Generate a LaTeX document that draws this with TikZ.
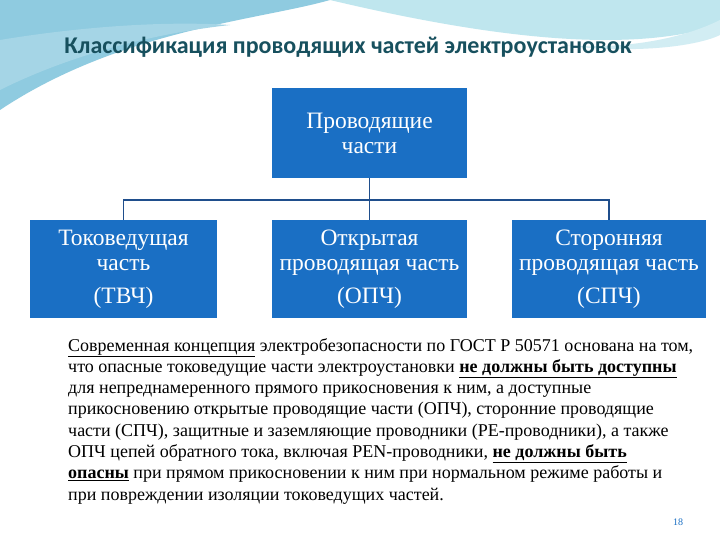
\documentclass[tikz,border=0pt]{standalone}
\usepackage{fontspec}
\setmainfont{Liberation Serif}
\newfontfamily\titlefont{Carlito}
\newcommand\ul[1]{\underline{#1}}
\begin{document}
\begin{tikzpicture}[x=1pt,y=-1pt,
  box/.style={draw=none,fill=boxblue,text=white,inner sep=0pt,align=center,font=\fontsize{23.5}{25}\selectfont},
  link/.style={draw=linkblue,line width=1.3pt}]
\definecolor{boxblue}{HTML}{1A6FC4}
\definecolor{linkblue}{HTML}{1F4E8C}
\definecolor{titlecol}{HTML}{17505E}
\definecolor{wave1}{HTML}{8FCBE0}
\definecolor{wave2}{HTML}{BFE6EE}
\useasboundingbox (0,0) rectangle (720,540);
\fill[white] (0,0) rectangle (720,540);
% background waves
\fill[wave1] (0,0) -- (330,0) .. controls (260,20) and (120,30) .. (0,110) -- cycle;
\fill[wave2] (320,0) -- (720,0) -- (720,25) .. controls (640,50) and (520,45) .. (330,0) -- cycle;
\fill[wave1!80] (0,40) .. controls (60,30) and (150,20) .. (230,25) .. controls (140,35) and (60,60) .. (0,90) -- cycle;
\fill[wave2!70] (720,20) .. controls (680,40) and (620,50) .. (560,45) .. controls (640,55) and (700,45) .. (720,35) -- cycle;
\node[font=\titlefont\bfseries\fontsize{24}{26}\selectfont,text=titlecol] (title) at (348,47) {Классификация проводящих частей электроустановок};
% boxes
\node[box,minimum width=195,minimum height=90] (top) at (369.5,133) {Проводящие\\части};
\node[box,minimum width=187,minimum height=98] (l) at (123.5,269) {Токоведущая\\часть\\[8pt](ТВЧ)};
\node[box,minimum width=195,minimum height=98] (m) at (369.5,269) {Открытая\\проводящая часть\\[8pt](ОПЧ)};
\node[box,minimum width=194,minimum height=98] (r) at (609,269) {Сторонняя\\проводящая часть\\[8pt](СПЧ)};
\coordinate (j) at (369.5,200);
\draw[link] (top.south) -- (j);
\draw[link] (l.north) |- (j) -| (r.north);
\draw[link] (j) -- (m.north);
% paragraph
\node[anchor=north west,align=left,inner sep=0pt,font=\fontsize{18}{21.3}\selectfont] (para) at (68,338) {%
\ul{Современная концепция} электробезопасности по ГОСТ Р 50571 основана на том,\\
что опасные токоведущие части электроустановки \textbf{\ul{не должны быть доступны}}\\
для непреднамеренного прямого прикосновения к ним, а доступные\\
прикосновению открытые проводящие части (ОПЧ), сторонние проводящие\\
части (СПЧ), защитные и заземляющие проводники (PE-проводники), а также\\
ОПЧ цепей обратного тока, включая PEN-проводники, \textbf{\ul{не должны быть}}\\
\textbf{\ul{опасны}} при прямом прикосновении к ним при нормальном режиме работы и\\
при повреждении изоляции токоведущих частей.};
\node[font=\fontsize{10}{11}\selectfont,text=boxblue] (num) at (678,522) {18};
\end{tikzpicture}
\end{document}
